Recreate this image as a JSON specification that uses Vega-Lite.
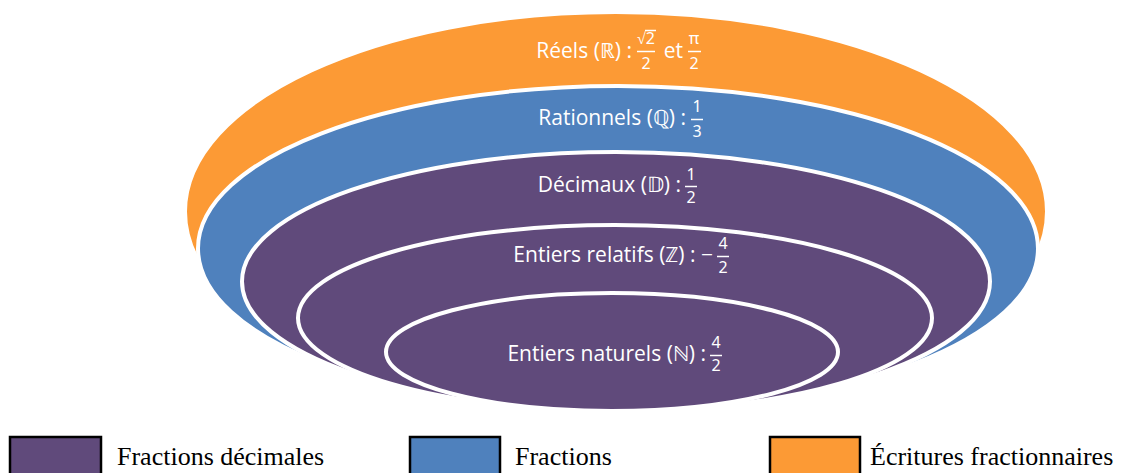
{
  "$schema": "https://vega.github.io/schema/vega-lite/v6.json",
  "width": 1126,
  "height": 473,
  "padding": 0,
  "autosize": {"type": "fit", "contains": "padding"},
  "background": "white",
  "config": {"view": {"stroke": null}},
  "datasets": {
    "ensembles": [
      {"ensemble": "Réels", "categorie": "Écritures fractionnaires", "cx": 616, "cy": 211.5, "rx": 431, "ordre": 1},
      {"ensemble": "Rationnels", "categorie": "Fractions", "cx": 618, "cy": 248.5, "rx": 420, "ordre": 2},
      {"ensemble": "Décimaux", "categorie": "Fractions décimales", "cx": 616, "cy": 281.5, "rx": 374, "ordre": 3},
      {"ensemble": "Entiers relatifs", "categorie": "Fractions décimales", "cx": 615, "cy": 318, "rx": 317, "ordre": 4},
      {"ensemble": "Entiers naturels", "categorie": "Fractions décimales", "cx": 612, "cy": 352, "rx": 226, "ordre": 5}
    ],
    "etiquettes": [
      {"texte": "Réels (ℝ) :", "x": 632, "y": 52},
      {"texte": "et", "x": 683, "y": 52},
      {"texte": "Rationnels (ℚ) :", "x": 686, "y": 119},
      {"texte": "Décimaux (𝔻) :", "x": 681, "y": 186},
      {"texte": "Entiers relatifs (ℤ) : −", "x": 713, "y": 256},
      {"texte": "Entiers naturels (ℕ) :", "x": 706, "y": 355}
    ],
    "fractions": [
      {"texte": "√2", "x": 646, "y": 39},
      {"texte": "2", "x": 646, "y": 64},
      {"texte": "π", "x": 694, "y": 39},
      {"texte": "2", "x": 694, "y": 64},
      {"texte": "1", "x": 697, "y": 107},
      {"texte": "3", "x": 697, "y": 132},
      {"texte": "1", "x": 691, "y": 175},
      {"texte": "2", "x": 691, "y": 198},
      {"texte": "4", "x": 723, "y": 244},
      {"texte": "2", "x": 723, "y": 268},
      {"texte": "4", "x": 716, "y": 343},
      {"texte": "2", "x": 716, "y": 366}
    ],
    "barres": [
      {"x1": 637, "x2": 655, "y": 51.5},
      {"x1": 645, "x2": 656, "y": 30.5},
      {"x1": 688, "x2": 701, "y": 51.5},
      {"x1": 691, "x2": 703, "y": 119.5},
      {"x1": 685, "x2": 697, "y": 186.5},
      {"x1": 717, "x2": 729, "y": 256.5},
      {"x1": 710, "x2": 722, "y": 355.5}
    ],
    "legende": [
      {"categorie": "Fractions décimales", "x1": 10, "x2": 101, "xt": 117, "y1": 437, "y2": 490, "yt": 465},
      {"categorie": "Fractions", "x1": 410, "x2": 500, "xt": 515, "y1": 437, "y2": 490, "yt": 465},
      {"categorie": "Écritures fractionnaires", "x1": 770, "x2": 860, "xt": 870, "y1": 437, "y2": 490, "yt": 465}
    ]
  },
  "layer": [
    {
      "data": {"name": "ensembles"},
      "mark": {"type": "point", "filled": true, "stroke": "white", "strokeWidth": 4, "opacity": 1, "fillOpacity": 1, "strokeOpacity": 1},
      "encoding": {
        "x": {"field": "cx", "type": "quantitative", "axis": null, "scale": {"domain": [0, 1126], "nice": false, "zero": false}},
        "y": {"field": "cy", "type": "quantitative", "axis": null, "scale": {"domain": [0, 473], "nice": false, "zero": false, "reverse": true}},
        "size": {"field": "rx", "type": "quantitative", "legend": null, "scale": {"type": "pow", "exponent": 2, "domain": [0, 500], "range": [0, 1000000]}},
        "shape": {"field": "ensemble", "type": "nominal", "legend": null, "scale": {
          "domain": ["Réels", "Rationnels", "Décimaux", "Entiers relatifs", "Entiers naturels"],
          "range": [
            "M-1,0C-1,-0.2557,-0.5523,-0.4629,0,-0.4629C0.5523,-0.4629,1,-0.2557,1,0C1,0.2557,0.5523,0.4629,0,0.4629C-0.5523,0.4629,-1,0.2557,-1,0Z",
            "M-1,0C-1,-0.2137,-0.5523,-0.3869,0,-0.3869C0.5523,-0.3869,1,-0.2137,1,0C1,0.2137,0.5523,0.3869,0,0.3869C-0.5523,0.3869,-1,0.2137,-1,0Z",
            "M-1,0C-1,-0.1912,-0.5523,-0.3463,0,-0.3463C0.5523,-0.3463,1,-0.1912,1,0C1,0.1912,0.5523,0.3463,0,0.3463C-0.5523,0.3463,-1,0.1912,-1,0Z",
            "M-1,0C-1,-0.1620,-0.5523,-0.2934,0,-0.2934C0.5523,-0.2934,1,-0.1620,1,0C1,0.1620,0.5523,0.2934,0,0.2934C-0.5523,0.2934,-1,0.1620,-1,0Z",
            "M-1,0C-1,-0.1442,-0.5523,-0.2611,0,-0.2611C0.5523,-0.2611,1,-0.1442,1,0C1,0.1442,0.5523,0.2611,0,0.2611C-0.5523,0.2611,-1,0.1442,-1,0Z"
          ]}},
        "fill": {"field": "categorie", "type": "nominal", "legend": null, "scale": {
          "domain": ["Fractions décimales", "Fractions", "Écritures fractionnaires"],
          "range": ["#604A7B", "#4F81BD", "#FC9A35"]}},
        "order": {"field": "ordre", "type": "quantitative"}
      }
    },
    {
      "data": {"name": "etiquettes"},
      "mark": {"type": "text", "align": "right", "baseline": "middle", "font": "Open Sans", "fontSize": 21, "fill": "white"},
      "encoding": {
        "x": {"field": "x", "type": "quantitative"},
        "y": {"field": "y", "type": "quantitative"},
        "text": {"field": "texte", "type": "nominal"}
      }
    },
    {
      "data": {"name": "fractions"},
      "mark": {"type": "text", "align": "center", "baseline": "middle", "font": "Noto Sans", "fontSize": 16, "fill": "white"},
      "encoding": {
        "x": {"field": "x", "type": "quantitative"},
        "y": {"field": "y", "type": "quantitative"},
        "text": {"field": "texte", "type": "nominal"}
      }
    },
    {
      "data": {"name": "barres"},
      "mark": {"type": "rule", "stroke": "white", "strokeWidth": 1.5},
      "encoding": {
        "x": {"field": "x1", "type": "quantitative"},
        "x2": {"field": "x2"},
        "y": {"field": "y", "type": "quantitative"}
      }
    },
    {
      "data": {"name": "legende"},
      "mark": {"type": "rect", "stroke": "black", "strokeWidth": 2.5, "clip": true},
      "encoding": {
        "x": {"field": "x1", "type": "quantitative"},
        "x2": {"field": "x2"},
        "y": {"field": "y1", "type": "quantitative"},
        "y2": {"field": "y2"},
        "fill": {"field": "categorie", "type": "nominal", "legend": null}
      }
    },
    {
      "data": {"name": "legende"},
      "mark": {"type": "text", "align": "left", "baseline": "alphabetic", "font": "Liberation Serif", "fontSize": 26, "fill": "black"},
      "encoding": {
        "x": {"field": "xt", "type": "quantitative"},
        "y": {"field": "yt", "type": "quantitative"},
        "text": {"field": "categorie", "type": "nominal"}
      }
    }
  ]
}
